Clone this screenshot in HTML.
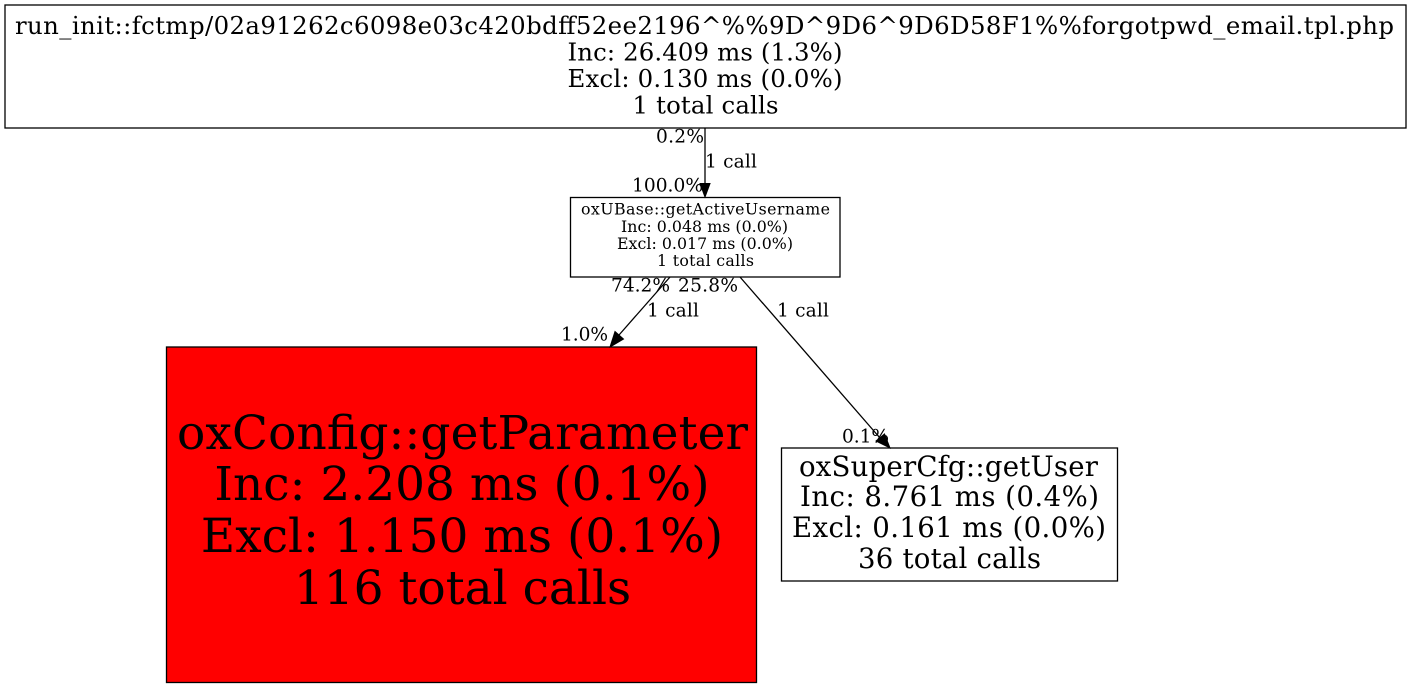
<!DOCTYPE html>
<html>
<head>
<meta charset="utf-8">
<style>
html,body{margin:0;padding:0;background:#fff}
svg{display:block}
text{font-family:"DejaVu Serif",serif;fill:#000;text-anchor:middle}
.s{text-anchor:start}
.n{text-anchor:end}
</style>
</head>
<body>
<svg width="1411" height="688" viewBox="0 0 1411 688" xmlns="http://www.w3.org/2000/svg">
<rect width="1411" height="688" fill="#fff"/>
<rect x="5" y="5" width="1401" height="123" fill="#fff" stroke="#000" stroke-width="1.3"/>
<g font-size="24.4">
<text x="704.5" y="34" textLength="1379">run_init::fctmp/02a91262c6098e03c420bdff52ee2196^%%9D^9D6^9D6D58F1%%forgotpwd_email.tpl.php</text>
<text x="705" y="60.5" textLength="275">Inc: 26.409 ms (1.3%)</text>
<text x="705" y="87" textLength="275">Excl: 0.130 ms (0.0%)</text>
<text x="705.5" y="113.5" textLength="146">1 total calls</text>
</g>
<rect x="570.5" y="197.5" width="269.5" height="79.5" fill="#fff" stroke="#000" stroke-width="1.3"/>
<g font-size="15.8">
<text x="705.5" y="214.5" textLength="249">oxUBase::getActiveUsername</text>
<text x="704.5" y="232" textLength="167">Inc: 0.048 ms (0.0%)</text>
<text x="705" y="249" textLength="176">Excl: 0.017 ms (0.0%)</text>
<text x="705.5" y="266" textLength="97">1 total calls</text>
</g>
<rect x="166.5" y="347" width="590" height="335.5" fill="#f00" stroke="#000" stroke-width="1.3"/>
<g font-size="47">
<text x="462.5" y="449" textLength="571">oxConfig::getParameter</text>
<text x="462" y="500">Inc: 2.208 ms (0.1%)</text>
<text x="462" y="552">Excl: 1.150 ms (0.1%)</text>
<text x="462.5" y="604">116 total calls</text>
</g>
<rect x="781.5" y="448" width="336" height="133" fill="#fff" stroke="#000" stroke-width="1.3"/>
<g font-size="27.6">
<text x="948.5" y="476" textLength="299">oxSuperCfg::getUser</text>
<text x="949.5" y="506" textLength="299">Inc: 8.761 ms (0.4%)</text>
<text x="949" y="537" textLength="314">Excl: 0.161 ms (0.0%)</text>
<text x="949.5" y="568" textLength="183">36 total calls</text>
</g>
<g stroke="#000" stroke-width="1.3" fill="none">
<line x1="705" y1="128" x2="705" y2="184"/>
<line x1="670" y1="277" x2="619" y2="335"/>
<line x1="740" y1="277" x2="880" y2="438"/>
</g>
<g fill="#000" stroke="#000">
<polygon points="700,183.5 710,183.5 705,197"/>
<polygon points="615,331.5 623.5,339 610,347"/>
<polygon points="876,441 884.5,434 890,448"/>
</g>
<g font-size="18.6">
<text class="n" x="704" y="142.5" textLength="48">0.2%</text>
<text class="s" x="705" y="167.5" textLength="52">1 call</text>
<text class="n" x="703" y="191.5" textLength="71">100.0%</text>
<text class="n" x="670" y="291.5" textLength="59">74.2%</text>
<text class="s" x="678" y="291.5" textLength="60">25.8%</text>
<text class="s" x="647" y="316.5" textLength="52">1 call</text>
<text class="s" x="777" y="316.5" textLength="52">1 call</text>
<text class="n" x="608" y="340.5" textLength="47">1.0%</text>
<text class="n" x="889" y="442.5" textLength="47">0.1%</text>
</g>
</svg>
</body>
</html>
